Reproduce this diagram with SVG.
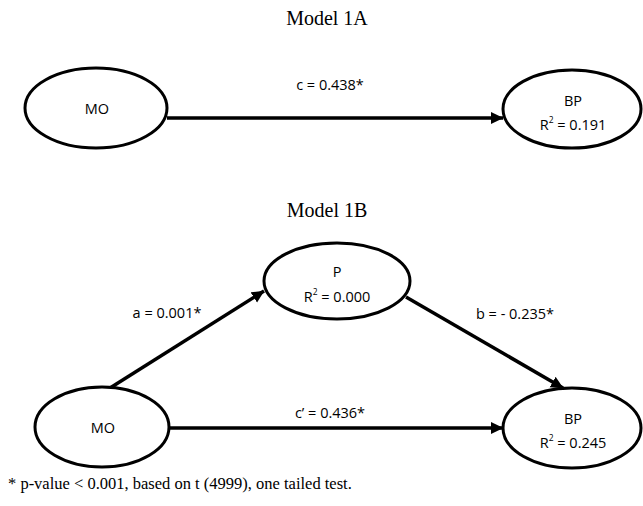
<svg xmlns="http://www.w3.org/2000/svg" width="643" height="506" viewBox="0 0 643 506">
<style>
.node{fill:#fff;stroke:#000;stroke-width:3}
.lbl{font-family:"Open Sans","Liberation Sans",sans-serif;font-size:14.5px;fill:#000;text-anchor:middle}
.title{font-family:"Liberation Serif","Times New Roman",serif;font-size:20px;fill:#000;text-anchor:middle}
.note{font-family:"Liberation Serif","Times New Roman",serif;font-size:16.5px;fill:#000}
.edge{stroke:#000;stroke-width:3.5;fill:none;marker-end:url(#arr)}
.sup{font-size:8.5px}
</style>
<defs>
<marker id="arr" markerUnits="userSpaceOnUse" markerWidth="13" markerHeight="13" refX="12" refY="6.5" orient="auto" viewBox="0 0 13 13">
<path d="M0,0.5 L12.5,6.5 L0,12.5 z" fill="#000"/>
</marker>
</defs>
<rect width="643" height="506" fill="#fff"/>
<text class="title" x="327" y="25">Model 1A</text>
<text class="title" x="327" y="217">Model 1B</text>
<g id="connectors">
<line class="edge" x1="167" y1="118" x2="503" y2="118"/>
<line class="edge" x1="110" y1="388" x2="264" y2="291"/>
<line class="edge" x1="406" y1="297" x2="563" y2="388"/>
<line class="edge" x1="168" y1="428" x2="503" y2="428"/>
<text class="lbl" x="330" y="90">c = 0.438*</text>
<text class="lbl" x="167" y="318">a = 0.001*</text>
<text class="lbl" x="515" y="319">b = - 0.235*</text>
<text class="lbl" x="330" y="418">c’ = 0.436*</text>
</g>
<g id="mo1a">
<ellipse class="node" cx="96" cy="108" rx="71" ry="40"/>
<text class="lbl" x="97" y="114">MO</text>
</g>
<g id="bp1a">
<ellipse class="node" cx="572" cy="109" rx="69" ry="39"/>
<text class="lbl" x="573" y="106">BP</text>
<text class="lbl" x="573" y="130">R<tspan class="sup" dy="-7">2</tspan><tspan dy="7"> = 0.191</tspan></text>
</g>
<g id="p1b">
<ellipse class="node" cx="337" cy="281" rx="73" ry="38"/>
<text class="lbl" x="337" y="277">P</text>
<text class="lbl" x="337" y="302">R<tspan class="sup" dy="-7">2</tspan><tspan dy="7"> = 0.000</tspan></text>
</g>
<g id="mo1b">
<ellipse class="node" cx="102" cy="427" rx="67" ry="40"/>
<text class="lbl" x="103" y="433">MO</text>
</g>
<g id="bp1b">
<ellipse class="node" cx="572" cy="428" rx="69" ry="40"/>
<text class="lbl" x="573" y="424">BP</text>
<text class="lbl" x="573" y="448">R<tspan class="sup" dy="-7">2</tspan><tspan dy="7"> = 0.245</tspan></text>
</g>
<text class="note" x="8" y="489">* p-value &lt; 0.001, based on t (4999), one tailed test.</text>
</svg>
